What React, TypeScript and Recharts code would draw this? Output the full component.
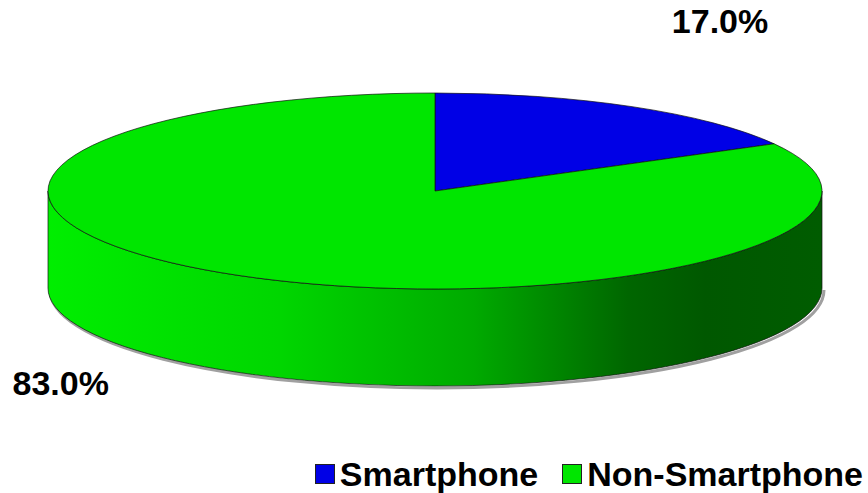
import { PieChart, Pie, Cell, Legend } from "recharts";

const categories = ["Smartphone", "Non-Smartphone"];
const shares = [17.0, 83.0];
const colors = ["#0000e6", "#00e600"];

const data = categories.map((name, i) => ({ name, value: shares[i] }));

// 3D look: ellipse squash and side depth
const TILT = 98 / 387;
const DEPTH = 97;
const RAD = Math.PI / 180;

function pt(cx: number, cy: number, rx: number, ry: number, a: number) {
  return [cx + rx * Math.cos(a * RAD), cy - ry * Math.sin(a * RAD)];
}

function Slice3D(props: any) {
  const { cx, cy, outerRadius, startAngle, endAngle, fill, index } = props;
  const rx = outerRadius;
  const ry = outerRadius * TILT;
  const [x0, y0] = pt(cx, cy, rx, ry, startAngle);
  const [x1, y1] = pt(cx, cy, rx, ry, endAngle);
  const span = Math.abs(endAngle - startAngle);
  const sweep = endAngle < startAngle ? 1 : 0;
  const top = `M${cx},${cy} L${x0},${y0} A${rx},${ry} 0 ${span > 180 ? 1 : 0} ${sweep} ${x1},${y1} Z`;

  // visible front wall: part of the slice in the lower half
  const lo = Math.min(startAngle, endAngle);
  const hi = Math.max(startAngle, endAngle);
  const walls: [number, number][] = [];
  for (let k = -2; k <= 2; k++) {
    const s = Math.max(lo, -180 + 360 * k);
    const e = Math.min(hi, 360 * k);
    if (e > s) walls.push([s, e]);
  }
  const gid = `side-${index}`;

  return (
    <g>
      <defs>
        <linearGradient id={gid} gradientUnits="userSpaceOnUse" x1={cx - rx} x2={cx + rx} y1={0} y2={0}>
          <stop offset="0%" stopColor="#00ee00" />
          <stop offset="30%" stopColor="#00d600" />
          <stop offset="55%" stopColor="#00aa00" />
          <stop offset="75%" stopColor="#006600" />
          <stop offset="85%" stopColor="#005800" />
          <stop offset="100%" stopColor="#005c00" />
        </linearGradient>
      </defs>
      {walls.map(([s, e], i) => {
        const [sx, sy] = pt(cx, cy, rx, ry, s);
        const [ex, ey] = pt(cx, cy, rx, ry, e);
        const d = `M${sx},${sy} A${rx},${ry} 0 0 0 ${ex},${ey} L${ex},${ey + DEPTH} A${rx},${ry} 0 0 1 ${sx},${sy + DEPTH} Z`;
        const shadow = `M${sx + 2},${sy + DEPTH + 2} A${rx},${ry} 0 0 0 ${ex + 2},${ey + DEPTH + 2}`;
        return (
          <g key={i}>
            <path d={shadow} fill="none" stroke="#a0a0a0" strokeWidth={3} />
            <path d={d} fill={`url(#${gid})`} stroke="#111" strokeWidth={0.7} />
          </g>
        );
      })}
      <path d={top} fill={fill} stroke="#111" strokeWidth={0.7} />
    </g>
  );
}

function PctLabel(props: any) {
  const { cx, cy, outerRadius, midAngle, percent } = props;
  const c = Math.cos(midAngle * RAD);
  const s = Math.sin(midAngle * RAD);
  const fx = c >= 0 ? 1.447 : 1.9;
  const fy = s >= 0 ? 1.873 : 1.268;
  const x = cx + c * outerRadius * fx;
  const y = cy - s * outerRadius * TILT * fy + (s < 0 ? DEPTH : 0);
  return (
    <text
      x={x}
      y={y}
      textAnchor="middle"
      fontFamily="'Liberation Sans', Arial, sans-serif"
      fontWeight="bold"
      fontSize={34}
      fill="#000"
    >
      {(percent * 100).toFixed(1)}%
    </text>
  );
}

function LegendBox(props: any) {
  const items = [...(props.payload ?? [])].sort(
    (a: any, b: any) => categories.indexOf(a.value) - categories.indexOf(b.value)
  );
  return (
    <div
      style={{
        display: "flex",
        alignItems: "center",
        fontFamily: "'Liberation Sans', Arial, sans-serif",
        fontWeight: "bold",
        fontSize: 34,
        lineHeight: "36px",
        color: "#000",
      }}
    >
      {items.map((it: any, i: number) => (
        <div key={i} style={{ display: "flex", alignItems: "center", marginLeft: i ? 24 : 0 }}>
          <span
            style={{
              width: 18,
              height: 18,
              background: it.color,
              border: "1.5px solid #222",
              marginRight: 5,
              display: "inline-block",
            }}
          />
          <span>{it.value}</span>
        </div>
      ))}
    </div>
  );
}

export default function App() {
  return (
    <div style={{ position: "absolute", left: 0, top: 0, background: "#fff" }}>
      <PieChart width={868} height={493} margin={{ top: 0, right: 0, bottom: 0, left: 0 }}>
        <Pie
          data={data}
          dataKey="value"
          nameKey="name"
          cx={435}
          cy={191}
          outerRadius={387}
          startAngle={90}
          endAngle={-270}
          stroke="none"
          labelLine={false}
          label={PctLabel}
          shape={Slice3D}
          inactiveShape={Slice3D}
          activeShape={Slice3D}
          isAnimationActive={false}
        >
          {data.map((d, i) => (
            <Cell key={d.name} fill={colors[i]} />
          ))}
        </Pie>
        <Legend
          content={LegendBox}
          itemSorter={null as any}
          wrapperStyle={{ position: "absolute", right: 5, left: "auto", top: 456, width: "auto" }}
        />
      </PieChart>
    </div>
  );
}
